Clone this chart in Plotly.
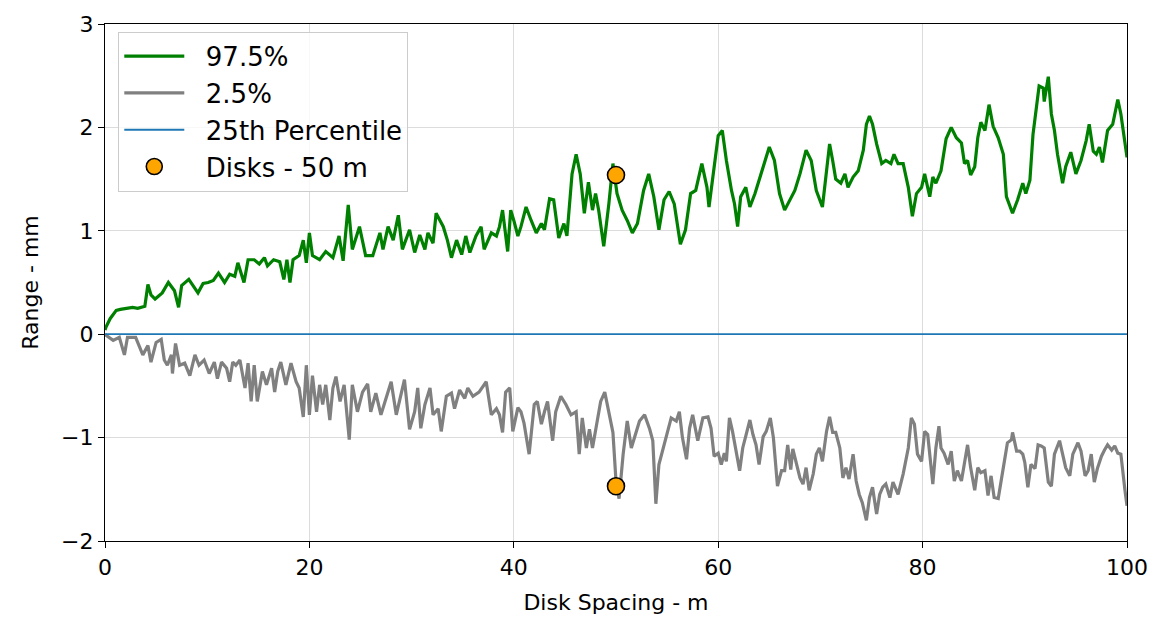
import plotly.graph_objects as go

# Upper envelope (97.5 %) of the range versus disk spacing
upper_x = [0.0, 0.1, 0.5, 1.1, 1.5, 2.0, 2.7, 3.2, 3.9, 4.2, 4.5, 4.9, 5.6, 6.2, 6.8, 7.2, 7.5, 8.2, 8.7, 9.1,
           9.6, 10.1, 10.6, 11.1, 11.7, 12.2, 12.7, 13.0, 13.6, 14.0, 14.6, 15.1, 15.6, 15.9, 16.5, 17.1, 17.5,
           17.8, 18.1, 18.4, 19.0, 19.4, 19.7, 20.0, 20.3, 21.0, 21.6, 22.3, 22.9, 23.3, 23.8, 24.2, 24.9, 25.5,
           26.2, 26.9, 27.2, 27.7, 28.2, 28.7, 29.1, 29.8, 30.3, 30.8, 31.3, 31.6, 32.1, 32.4, 33.1, 33.5, 33.9,
           34.4, 34.9, 35.3, 35.7, 36.3, 36.8, 37.1, 37.8, 38.3, 38.6, 38.9, 39.4, 39.7, 40.0, 40.4, 40.7, 41.2,
           41.7, 42.2, 42.7, 43.0, 43.5, 43.9, 44.4, 44.9, 45.2, 45.7, 46.1, 46.5, 46.9, 47.3, 47.7, 48.0, 48.3,
           48.8, 49.3, 49.7, 50.1, 50.6, 51.1, 51.6, 52.1, 52.7, 53.2, 53.7, 54.2, 54.7, 55.2, 55.7, 56.3, 56.8,
           57.3, 57.8, 58.4, 58.9, 59.1, 59.5, 60.0, 60.4, 60.8, 61.3, 61.6, 61.9, 62.2, 62.7, 63.1, 63.6, 64.0,
           64.5, 65.0, 65.5, 66.0, 66.5, 67.0, 67.5, 68.0, 68.6, 69.1, 69.6, 70.2, 70.6, 70.9, 71.2, 71.5, 72.0,
           72.4, 72.7, 73.2, 73.7, 74.2, 74.5, 74.8, 75.1, 75.5, 76.0, 76.4, 76.9, 77.2, 77.6, 78.1, 78.6, 79.0,
           79.4, 79.9, 80.2, 80.7, 81.0, 81.3, 81.8, 82.3, 82.8, 83.3, 83.8, 84.1, 84.4, 84.7, 85.1, 85.4, 85.7,
           86.1, 86.5, 86.9, 87.4, 87.9, 88.2, 88.8, 89.3, 89.8, 90.1, 90.5, 90.8, 91.1, 91.4, 91.8, 91.9, 92.3,
           92.6, 92.9, 93.2, 93.7, 94.0, 94.5, 95.0, 95.5, 96.0, 96.3, 96.7, 97.0, 97.3, 97.6, 98.1, 98.6, 99.1,
           99.4, 100.0]
upper_y = [0.04, 0.07, 0.15, 0.23, 0.24, 0.25, 0.26, 0.25, 0.27, 0.48, 0.38, 0.34, 0.40, 0.50, 0.42, 0.26, 0.47,
           0.53, 0.45, 0.40, 0.49, 0.50, 0.52, 0.59, 0.50, 0.58, 0.56, 0.69, 0.50, 0.72, 0.72, 0.68, 0.74, 0.66,
           0.72, 0.70, 0.53, 0.72, 0.50, 0.72, 0.76, 0.91, 0.69, 0.98, 0.76, 0.72, 0.80, 0.74, 0.95, 0.71, 1.25,
           0.82, 1.04, 0.76, 0.76, 0.98, 0.82, 1.04, 0.91, 1.15, 0.82, 1.01, 0.79, 0.96, 0.82, 0.98, 0.88, 1.17,
           1.04, 0.91, 0.74, 0.91, 0.77, 0.95, 0.79, 0.95, 1.04, 0.82, 0.98, 0.95, 1.04, 1.20, 0.80, 1.20, 1.10,
           0.95, 1.04, 1.23, 1.10, 0.98, 1.07, 1.01, 1.31, 1.30, 0.93, 1.07, 0.95, 1.55, 1.74, 1.55, 1.17, 1.47,
           1.20, 1.36, 1.20, 0.85, 1.26, 1.65, 1.36, 1.20, 1.10, 0.98, 1.07, 1.39, 1.55, 1.33, 1.01, 1.30, 1.38,
           1.26, 0.87, 1.01, 1.36, 1.39, 1.65, 1.42, 1.23, 1.55, 1.92, 1.97, 1.68, 1.39, 1.26, 1.04, 1.33, 1.42,
           1.23, 1.36, 1.49, 1.65, 1.81, 1.68, 1.36, 1.20, 1.30, 1.39, 1.55, 1.78, 1.68, 1.39, 1.23, 1.55, 1.84,
           1.68, 1.50, 1.46, 1.55, 1.42, 1.52, 1.58, 1.78, 2.03, 2.11, 2.03, 1.84, 1.65, 1.68, 1.65, 1.74, 1.65,
           1.65, 1.42, 1.14, 1.36, 1.42, 1.55, 1.33, 1.52, 1.46, 1.58, 1.89, 2.00, 1.90, 1.85, 1.65, 1.68, 1.54,
           1.62, 1.90, 2.05, 1.97, 2.22, 2.01, 1.90, 1.74, 1.33, 1.17, 1.30, 1.46, 1.36, 1.49, 1.93, 2.16, 2.40,
           2.38, 2.25, 2.49, 2.13, 1.97, 1.74, 1.46, 1.62, 1.76, 1.55, 1.68, 1.87, 2.03, 1.77, 1.74, 1.81, 1.66,
           1.97, 2.03, 2.27, 2.13, 1.71]

# Lower envelope (2.5 %)
lower_x = [0.0, 0.1, 0.8, 1.4, 1.9, 2.2, 3.0, 3.7, 4.2, 4.5, 5.0, 5.5, 5.8, 6.1, 6.5, 6.6, 6.9, 7.3, 7.8, 8.3,
           8.8, 9.2, 9.7, 10.2, 10.7, 11.0, 11.4, 11.9, 12.2, 12.5, 12.8, 13.2, 13.7, 14.0, 14.3, 14.6, 14.9,
           15.4, 15.8, 16.3, 16.6, 16.9, 17.2, 17.7, 18.2, 18.7, 19.0, 19.4, 19.7, 20.0, 20.3, 20.7, 21.0, 21.3,
           21.6, 22.0, 22.3, 22.6, 23.0, 23.4, 23.9, 24.2, 24.7, 25.2, 25.7, 26.0, 26.5, 27.0, 27.5, 28.0, 28.5,
           29.0, 29.3, 29.8, 30.3, 30.6, 30.9, 31.3, 31.8, 32.1, 32.6, 32.9, 33.4, 33.9, 34.2, 34.7, 35.2, 35.5,
           36.0, 36.6, 37.3, 37.8, 38.3, 38.6, 38.9, 39.2, 39.6, 39.9, 40.4, 40.7, 41.0, 41.5, 42.0, 42.3, 42.7,
           43.0, 43.3, 43.8, 44.1, 44.6, 45.1, 45.6, 46.1, 46.4, 46.7, 47.1, 47.4, 47.7, 48.2, 48.5, 48.9, 49.2,
           49.7, 50.0, 50.3, 50.7, 51.1, 51.5, 52.0, 52.3, 52.8, 53.3, 53.6, 53.9, 54.2, 54.6, 55.1, 55.4, 55.9,
           56.2, 56.5, 56.9, 57.2, 57.5, 58.0, 58.5, 59.0, 59.3, 59.6, 60.0, 60.3, 60.6, 60.8, 61.1, 61.4, 61.8,
           62.1, 62.4, 62.7, 63.1, 63.4, 63.7, 64.0, 64.4, 64.7, 65.1, 65.4, 65.8, 66.2, 66.5, 66.8, 67.1, 67.3,
           67.6, 68.0, 68.3, 68.6, 68.9, 69.3, 69.6, 69.9, 70.2, 70.6, 70.9, 71.2, 71.5, 71.9, 72.2, 72.5, 72.8,
           73.2, 73.5, 73.8, 74.1, 74.5, 74.8, 75.1, 75.5, 75.8, 76.1, 76.4, 76.8, 77.1, 77.6, 78.1, 78.6, 78.9,
           79.2, 79.5, 79.9, 80.2, 80.5, 81.0, 81.3, 81.6, 81.8, 82.1, 82.5, 82.8, 83.1, 83.4, 83.8, 84.1, 84.4,
           84.7, 85.1, 85.4, 85.7, 86.1, 86.4, 86.7, 87.0, 87.4, 87.7, 88.0, 88.3, 88.7, 88.8, 89.2, 89.5, 89.8,
           90.0, 90.3, 90.6, 91.0, 91.3, 91.6, 91.9, 92.3, 92.6, 92.9, 93.4, 93.7, 94.0, 94.4, 94.7, 95.2, 95.5,
           95.9, 96.2, 96.5, 96.8, 97.1, 97.5, 97.8, 98.1, 98.5, 98.8, 99.1, 99.4, 99.8, 100.0]
lower_y = [0.0, -0.01, -0.06, -0.03, -0.20, -0.03, -0.03, -0.20, -0.11, -0.27, -0.08, -0.05, -0.25, -0.30, -0.20,
           -0.38, -0.09, -0.30, -0.28, -0.40, -0.20, -0.30, -0.25, -0.38, -0.27, -0.43, -0.27, -0.33, -0.46, -0.27,
           -0.30, -0.25, -0.52, -0.28, -0.65, -0.30, -0.65, -0.36, -0.49, -0.33, -0.56, -0.36, -0.27, -0.49, -0.28,
           -0.46, -0.52, -0.80, -0.30, -0.78, -0.40, -0.75, -0.49, -0.68, -0.49, -0.83, -0.52, -0.41, -0.65, -0.49,
           -1.02, -0.49, -0.75, -0.56, -0.48, -0.75, -0.57, -0.78, -0.62, -0.46, -0.78, -0.56, -0.44, -0.92, -0.75,
           -0.52, -0.91, -0.68, -0.52, -0.78, -0.72, -0.94, -0.60, -0.57, -0.72, -0.54, -0.62, -0.52, -0.60, -0.56,
           -0.46, -0.78, -0.72, -0.78, -0.95, -0.56, -0.52, -0.94, -0.71, -0.75, -0.86, -1.16, -0.68, -0.65, -0.87,
           -0.75, -0.65, -1.03, -0.75, -0.60, -0.68, -0.78, -0.75, -1.16, -0.81, -1.10, -0.92, -1.10, -0.84, -0.65,
           -0.56, -0.71, -0.95, -1.42, -1.59, -1.16, -0.84, -1.10, -0.94, -0.84, -0.78, -0.92, -1.03, -1.64, -1.26,
           -1.10, -0.92, -0.81, -0.84, -0.75, -1.00, -1.21, -0.91, -0.78, -1.03, -0.81, -0.80, -0.91, -1.18, -1.15,
           -1.26, -1.15, -1.23, -0.81, -0.94, -1.16, -1.32, -1.10, -0.97, -0.83, -0.97, -1.07, -1.26, -0.99, -0.94,
           -0.81, -1.00, -1.47, -1.32, -1.32, -1.07, -1.31, -1.11, -1.23, -1.39, -1.45, -1.29, -1.51, -1.35, -1.16,
           -1.10, -1.23, -0.94, -0.80, -0.95, -0.95, -1.10, -1.39, -1.29, -1.40, -1.16, -1.42, -1.55, -1.63, -1.80,
           -1.58, -1.48, -1.74, -1.55, -1.48, -1.45, -1.58, -1.43, -1.55, -1.35, -1.10, -0.81, -0.87, -1.16, -1.23,
           -0.94, -0.97, -1.45, -1.10, -0.89, -1.10, -1.15, -1.26, -1.13, -1.42, -1.32, -1.42, -1.26, -1.07, -1.29,
           -1.51, -1.29, -1.34, -1.32, -1.56, -1.37, -1.58, -1.59, -1.43, -1.23, -1.05, -1.02, -0.95, -1.13, -1.13,
           -1.16, -1.24, -1.48, -1.26, -1.30, -1.07, -1.08, -1.10, -1.43, -1.47, -1.16, -1.03, -1.15, -1.29, -1.37,
           -1.16, -1.05, -1.13, -1.37, -1.32, -1.16, -1.43, -1.30, -1.18, -1.12, -1.07, -1.12, -1.08, -1.15, -1.16,
           -1.51, -1.66]

# 25th percentile reference line
p25_x = [0.0, 100.0]
p25_y = [0.0, 0.0]

# Disk observations at 50 m spacing
disk_x = [50.0, 50.0]
disk_y = [1.54, -1.47]

# Legend labels (non-breaking spaces pad the gap after the legend symbol)
PAD = "\u00a0\u00a0"
series_names = ["97.5%", "2.5%", "25th Percentile", "Disks - 50 m"]

FONT = "DejaVu Sans"
TICK_SIZE = 22
TITLE_SIZE = 22
LEGEND_SIZE = 26

fig = go.Figure()
fig.add_trace(go.Scatter(x=upper_x, y=upper_y, mode="lines", name=PAD + series_names[0], legendgroup="a",
                         line=dict(color="#008000", width=3.2)))
fig.add_trace(go.Scatter(x=lower_x, y=lower_y, mode="lines", name=PAD + series_names[1], legendgroup="b",
                         line=dict(color="#808080", width=3.2)))
fig.add_trace(go.Scatter(x=p25_x, y=p25_y, mode="lines", name=PAD + series_names[2], legendgroup="c",
                         line=dict(color="#1f77b4", width=1.8)))
fig.add_trace(go.Scatter(x=disk_x, y=disk_y, mode="markers", name=PAD + series_names[3], legendgroup="d",
                         marker=dict(color="#ffa500", size=17, line=dict(color="black", width=1.6))))

axis_common = dict(
    showline=True, linecolor="black", linewidth=1.2, mirror=True,
    ticks="outside", ticklen=6, tickwidth=1.2, tickcolor="black",
    showgrid=True, gridcolor="#dcdcdc", gridwidth=1, zeroline=False,
    tickfont=dict(family=FONT, size=TICK_SIZE, color="black"),
)

fig.update_xaxes(range=[0, 100], tickvals=[0, 20, 40, 60, 80, 100],
                 title=dict(text="Disk Spacing - m", font=dict(family=FONT, size=TITLE_SIZE, color="black"),
                            standoff=16),
                 **axis_common)
fig.update_yaxes(range=[-2, 3], tickvals=[-2, -1, 0, 1, 2, 3],
                 title=dict(text="Range - mm", font=dict(family=FONT, size=TITLE_SIZE, color="black"),
                            standoff=16),
                 **axis_common)

fig.update_layout(
    width=1160, height=626,
    margin=dict(l=105, r=32, t=19, b=85),
    paper_bgcolor="white", plot_bgcolor="white",
    font=dict(family=FONT, size=TICK_SIZE, color="black"),
    legend=dict(x=0.013, y=0.985, xanchor="left", yanchor="top",
                bgcolor="rgba(255,255,255,0.8)", bordercolor="#cccccc", borderwidth=1,
                font=dict(family=FONT, size=LEGEND_SIZE, color="black"),
                tracegroupgap=6, itemwidth=60, traceorder="normal"),
)

fig.write_html("out.html")
